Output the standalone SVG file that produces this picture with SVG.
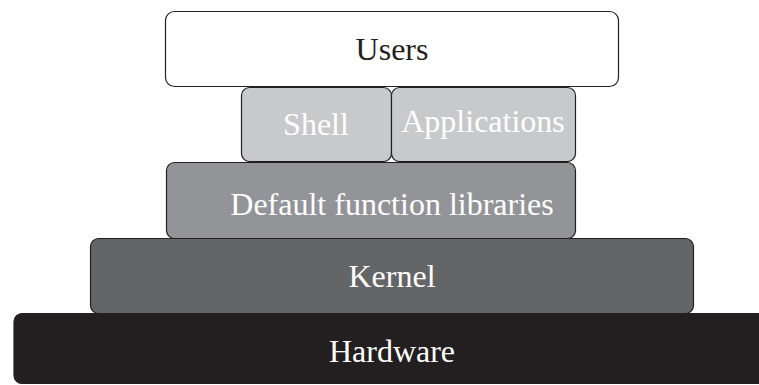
<svg xmlns="http://www.w3.org/2000/svg" width="759" height="385" viewBox="0 0 759 385">
  <style>
    .box { stroke: #231f20; stroke-width: 1.2; }
    .lbl { font-family: "Liberation Serif", "Times New Roman", serif; font-size: 32px; text-anchor: middle; }
    .dark { fill: #231f20; }
    .light { fill: #ffffff; }
  </style>
  <rect width="759" height="385" fill="#ffffff"/>
  <g id="hardware">
    <rect class="box" x="14" y="313.5" width="760" height="70" rx="8" fill="#231f20"/>
    <text class="lbl light" x="392" y="362">Hardware</text>
  </g>
  <g id="kernel">
    <rect class="box" x="90.5" y="238.5" width="603" height="75" rx="8" fill="#646567"/>
    <text class="lbl light" x="392" y="287">Kernel</text>
  </g>
  <g id="libraries">
    <rect class="box" x="166.5" y="162.5" width="409" height="76" rx="8" fill="#939498"/>
    <text class="lbl light" x="392" y="215">Default function libraries</text>
  </g>
  <g id="shell">
    <rect class="box" x="241.5" y="87.5" width="150" height="74" rx="8" fill="#c8c9cb"/>
    <text class="lbl light" x="316" y="135">Shell</text>
  </g>
  <g id="applications">
    <rect class="box" x="391.5" y="87.5" width="184" height="74" rx="8" fill="#c8c9cb"/>
    <text class="lbl light" x="483" y="132">Applications</text>
  </g>
  <g id="users">
    <rect class="box" x="165.5" y="11.5" width="453" height="75" rx="9" fill="#ffffff"/>
    <text class="lbl dark" x="392" y="60">Users</text>
  </g>
  <g id="connectors"></g>
</svg>
